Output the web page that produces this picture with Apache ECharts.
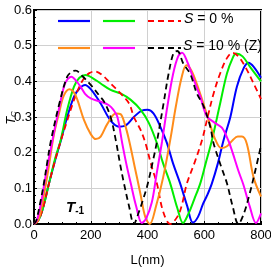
<!DOCTYPE html>
<html><head><meta charset="utf-8">
<script src="https://cdn.jsdelivr.net/npm/echarts@6/dist/echarts.min.js"></script>
<style>html,body{margin:0;padding:0;background:#fff}#c{width:271px;height:275px}</style>
</head><body><div id="c"></div>
<script>
const xTicks = [0, 200, 400, 600, 800];
const yTicks = [0, 0.1, 0.2, 0.3, 0.4, 0.5, 0.6];

const blue = [[0,0],[15,0.01],[30,0.04],[53,0.114],[75,0.18],[94,0.232],[117,0.30],[141,0.357],[160,0.38],[180,0.39],[200,0.378],[235,0.338],[270,0.29],[300,0.273],[320,0.275],[352,0.30],[380,0.318],[400,0.32],[421,0.31],[445,0.273],[468,0.228],[490,0.17],[515,0.114],[540,0.05],[560,0.004],[578,0.02],[595,0.055],[610,0.08],[627,0.114],[648,0.17],[668,0.235],[692,0.30],[715,0.385],[739,0.437],[756,0.452],[775,0.44],[800,0.41]];
const green = [[0,0],[15,0.01],[30,0.04],[53,0.114],[75,0.185],[94,0.235],[117,0.32],[141,0.385],[160,0.41],[182,0.418],[205,0.41],[235,0.394],[270,0.376],[305,0.366],[341,0.348],[376,0.32],[405,0.283],[433,0.227],[455,0.17],[480,0.114],[505,0.045],[525,0.003],[545,0.03],[565,0.07],[586,0.114],[605,0.17],[627,0.235],[656,0.338],[680,0.422],[700,0.465],[712,0.478],[735,0.47],[762,0.44],[800,0.40]];
const red = [[0,0],[15,0.01],[30,0.04],[53,0.114],[75,0.18],[94,0.232],[117,0.29],[141,0.348],[160,0.385],[176,0.408],[195,0.423],[215,0.428],[240,0.418],[270,0.394],[305,0.366],[335,0.338],[352,0.30],[376,0.263],[393,0.226],[415,0.16],[433,0.114],[455,0.035],[480,0],[505,0.02],[520,0.05],[539,0.114],[565,0.17],[592,0.235],[612,0.3],[633,0.366],[656,0.422],[680,0.465],[700,0.48],[720,0.47],[745,0.44],[774,0.394],[800,0.35]];
const orange = [[0,0],[15,0.01],[30,0.06],[50,0.15],[70,0.25],[88,0.31],[105,0.36],[125,0.378],[140,0.37],[153,0.348],[176,0.292],[200,0.252],[218,0.238],[235,0.245],[258,0.28],[288,0.31],[305,0.308],[320,0.28],[335,0.235],[355,0.16],[375,0.085],[392,0.02],[408,0],[430,0.05],[455,0.13],[480,0.235],[500,0.33],[520,0.41],[537,0.445],[555,0.43],[575,0.39],[600,0.33],[620,0.28],[640,0.235],[660,0.213],[680,0.218],[700,0.235],[718,0.245],[733,0.245],[750,0.225],[774,0.13],[800,0.077]];
const magenta = [[0,0],[10,0.01],[25,0.06],[40,0.13],[65,0.235],[90,0.33],[110,0.395],[132,0.413],[150,0.4],[164,0.385],[180,0.365],[200,0.352],[235,0.343],[264,0.333],[280,0.32],[294,0.30],[311,0.226],[325,0.17],[341,0.114],[360,0.05],[380,0.003],[395,0.015],[415,0.06],[432,0.14],[451,0.23],[470,0.33],[490,0.42],[508,0.47],[522,0.48],[540,0.455],[551,0.432],[570,0.39],[586,0.357],[609,0.302],[635,0.285],[662,0.27],[686,0.232],[700,0.2],[720,0.15],[738,0.11],[760,0.05],[782,0.003],[800,0.03]];
const black = [[0,0],[8,0.01],[22,0.06],[35,0.115],[48,0.18],[60,0.235],[90,0.34],[117,0.413],[135,0.428],[147,0.43],[170,0.415],[200,0.39],[230,0.36],[247,0.343],[270,0.30],[288,0.236],[303,0.17],[317,0.114],[335,0.05],[352,0.0],[368,0.03],[385,0.07],[400,0.11],[420,0.18],[433,0.23],[457,0.34],[474,0.42],[492,0.48],[505,0.485],[526,0.45],[551,0.42],[574,0.366],[598,0.33],[621,0.273],[633,0.226],[660,0.16],[680,0.114],[700,0.05],[720,0.0],[740,0.03],[760,0.085],[780,0.15],[800,0.22]];

const legendText1 = 'S = 0 %';
const legendText2 = 'S = 10 % (Z)';

const FONT = '"Liberation Sans Narrow", "Liberation Sans", Arial, sans-serif';
const chart = echarts.init(document.getElementById('c'), null, {renderer: 'canvas'});

function mk(name, data, color, dashed) {
  return {
    name, type: 'line', data, smooth: 0.35, showSymbol: false, symbol: 'none',
    lineStyle: {color, width: dashed ? 1.8 : 2, type: dashed ? [6, 4] : 'solid'},
    animation: false
  };
}

const seg = (x1, y, x2, color, dashed) => ({
  type: 'line', shape: {x1, y1: y, x2, y2: y},
  style: {stroke: color, lineWidth: 2.2, lineDash: dashed ? [6, 4] : null}, z: 100
});

chart.setOption({
  animation: false,
  grid: {left: 34, top: 10, right: 10, bottom: 51, show: true, borderColor: '#000', borderWidth: 2,
         containLabel: false, outerBoundsMode: 'none'},
  xAxis: {
    type: 'value', min: 0, max: 800, interval: 200,
    axisLine: {show: true, lineStyle: {color: '#000', width: 2}},
    axisTick: {show: true, inside: true, length: 3, lineStyle: {color: '#000'}},
    minorTick: {show: true, splitNumber: 4, length: 2, lineStyle: {color: '#000'}},
    splitLine: {show: true, lineStyle: {color: '#d0d0d0', width: 1}},
    axisLabel: {color: '#000', fontFamily: FONT, fontSize: 13, margin: 5},
    name: 'L(nm)', nameLocation: 'middle', nameGap: 30,
    nameTextStyle: {color: '#000', fontFamily: FONT, fontSize: 13}
  },
  yAxis: {
    type: 'value', min: 0, max: 0.6, interval: 0.1,
    axisLine: {show: true, lineStyle: {color: '#000', width: 2}},
    axisTick: {show: true, inside: true, length: 3, lineStyle: {color: '#000'}},
    minorTick: {show: true, splitNumber: 5, length: 2, lineStyle: {color: '#000'}},
    splitLine: {show: true, lineStyle: {color: '#d0d0d0', width: 1}},
    axisLabel: {color: '#000', fontFamily: FONT, fontSize: 13, margin: 2,
      formatter: v => v.toFixed(1)}
  },
  series: [
    mk('blue', blue, '#0000ff', false),
    mk('green', green, '#00ee00', false),
    mk('red', red, '#ff0000', true),
    mk('orange', orange, '#ff8c1a', false),
    mk('magenta', magenta, '#ff00ff', false),
    mk('black', black, '#000000', true)
  ],
  graphic: [
    seg(58, 21, 90, '#0000ff'), seg(103, 21, 135, '#00ee00'), seg(148, 21, 181, '#ff0000', true),
    seg(58, 48, 90, '#ff8c1a'), seg(103, 48, 135, '#ff00ff'), seg(148, 48, 181, '#000000', true),
    {type: 'text', left: 184, top: 12, z: 100, style: {
      text: '{i|S} = 0 %', fill: '#000', font: '14px ' + FONT,
      rich: {i: {fontStyle: 'italic', fontFamily: FONT, fontSize: 14}}}},
    {type: 'text', left: 183, top: 39, z: 100, style: {
      text: '{i|S} = 10 % (Z)', fill: '#000', font: '14px ' + FONT,
      rich: {i: {fontStyle: 'italic', fontFamily: FONT, fontSize: 14}}}},
    {type: 'text', x: 11, y: 118, rotation: Math.PI / 2, z: 100, style: {
      text: '{t|T}{s|C}', align: 'center', verticalAlign: 'middle',
      rich: {t: {fontFamily: FONT, fontStyle: 'italic', fontSize: 13, fill: '#000'},
             s: {fontFamily: FONT, fontStyle: 'italic', fontSize: 8, fill: '#000', padding: [5, 0, 0, 0]}}}},
    {type: 'text', left: 66, top: 200, z: 100, style: {
      text: '{t|T}{s|-1}', fill: '#000',
      rich: {t: {fontStyle: 'italic', fontWeight: 'bold', fontFamily: FONT, fontSize: 15},
             s: {fontStyle: 'normal', fontWeight: 'bold', fontFamily: FONT, fontSize: 10, padding: [8, 0, 0, 0]}}}}
  ]
});
</script></body></html>
